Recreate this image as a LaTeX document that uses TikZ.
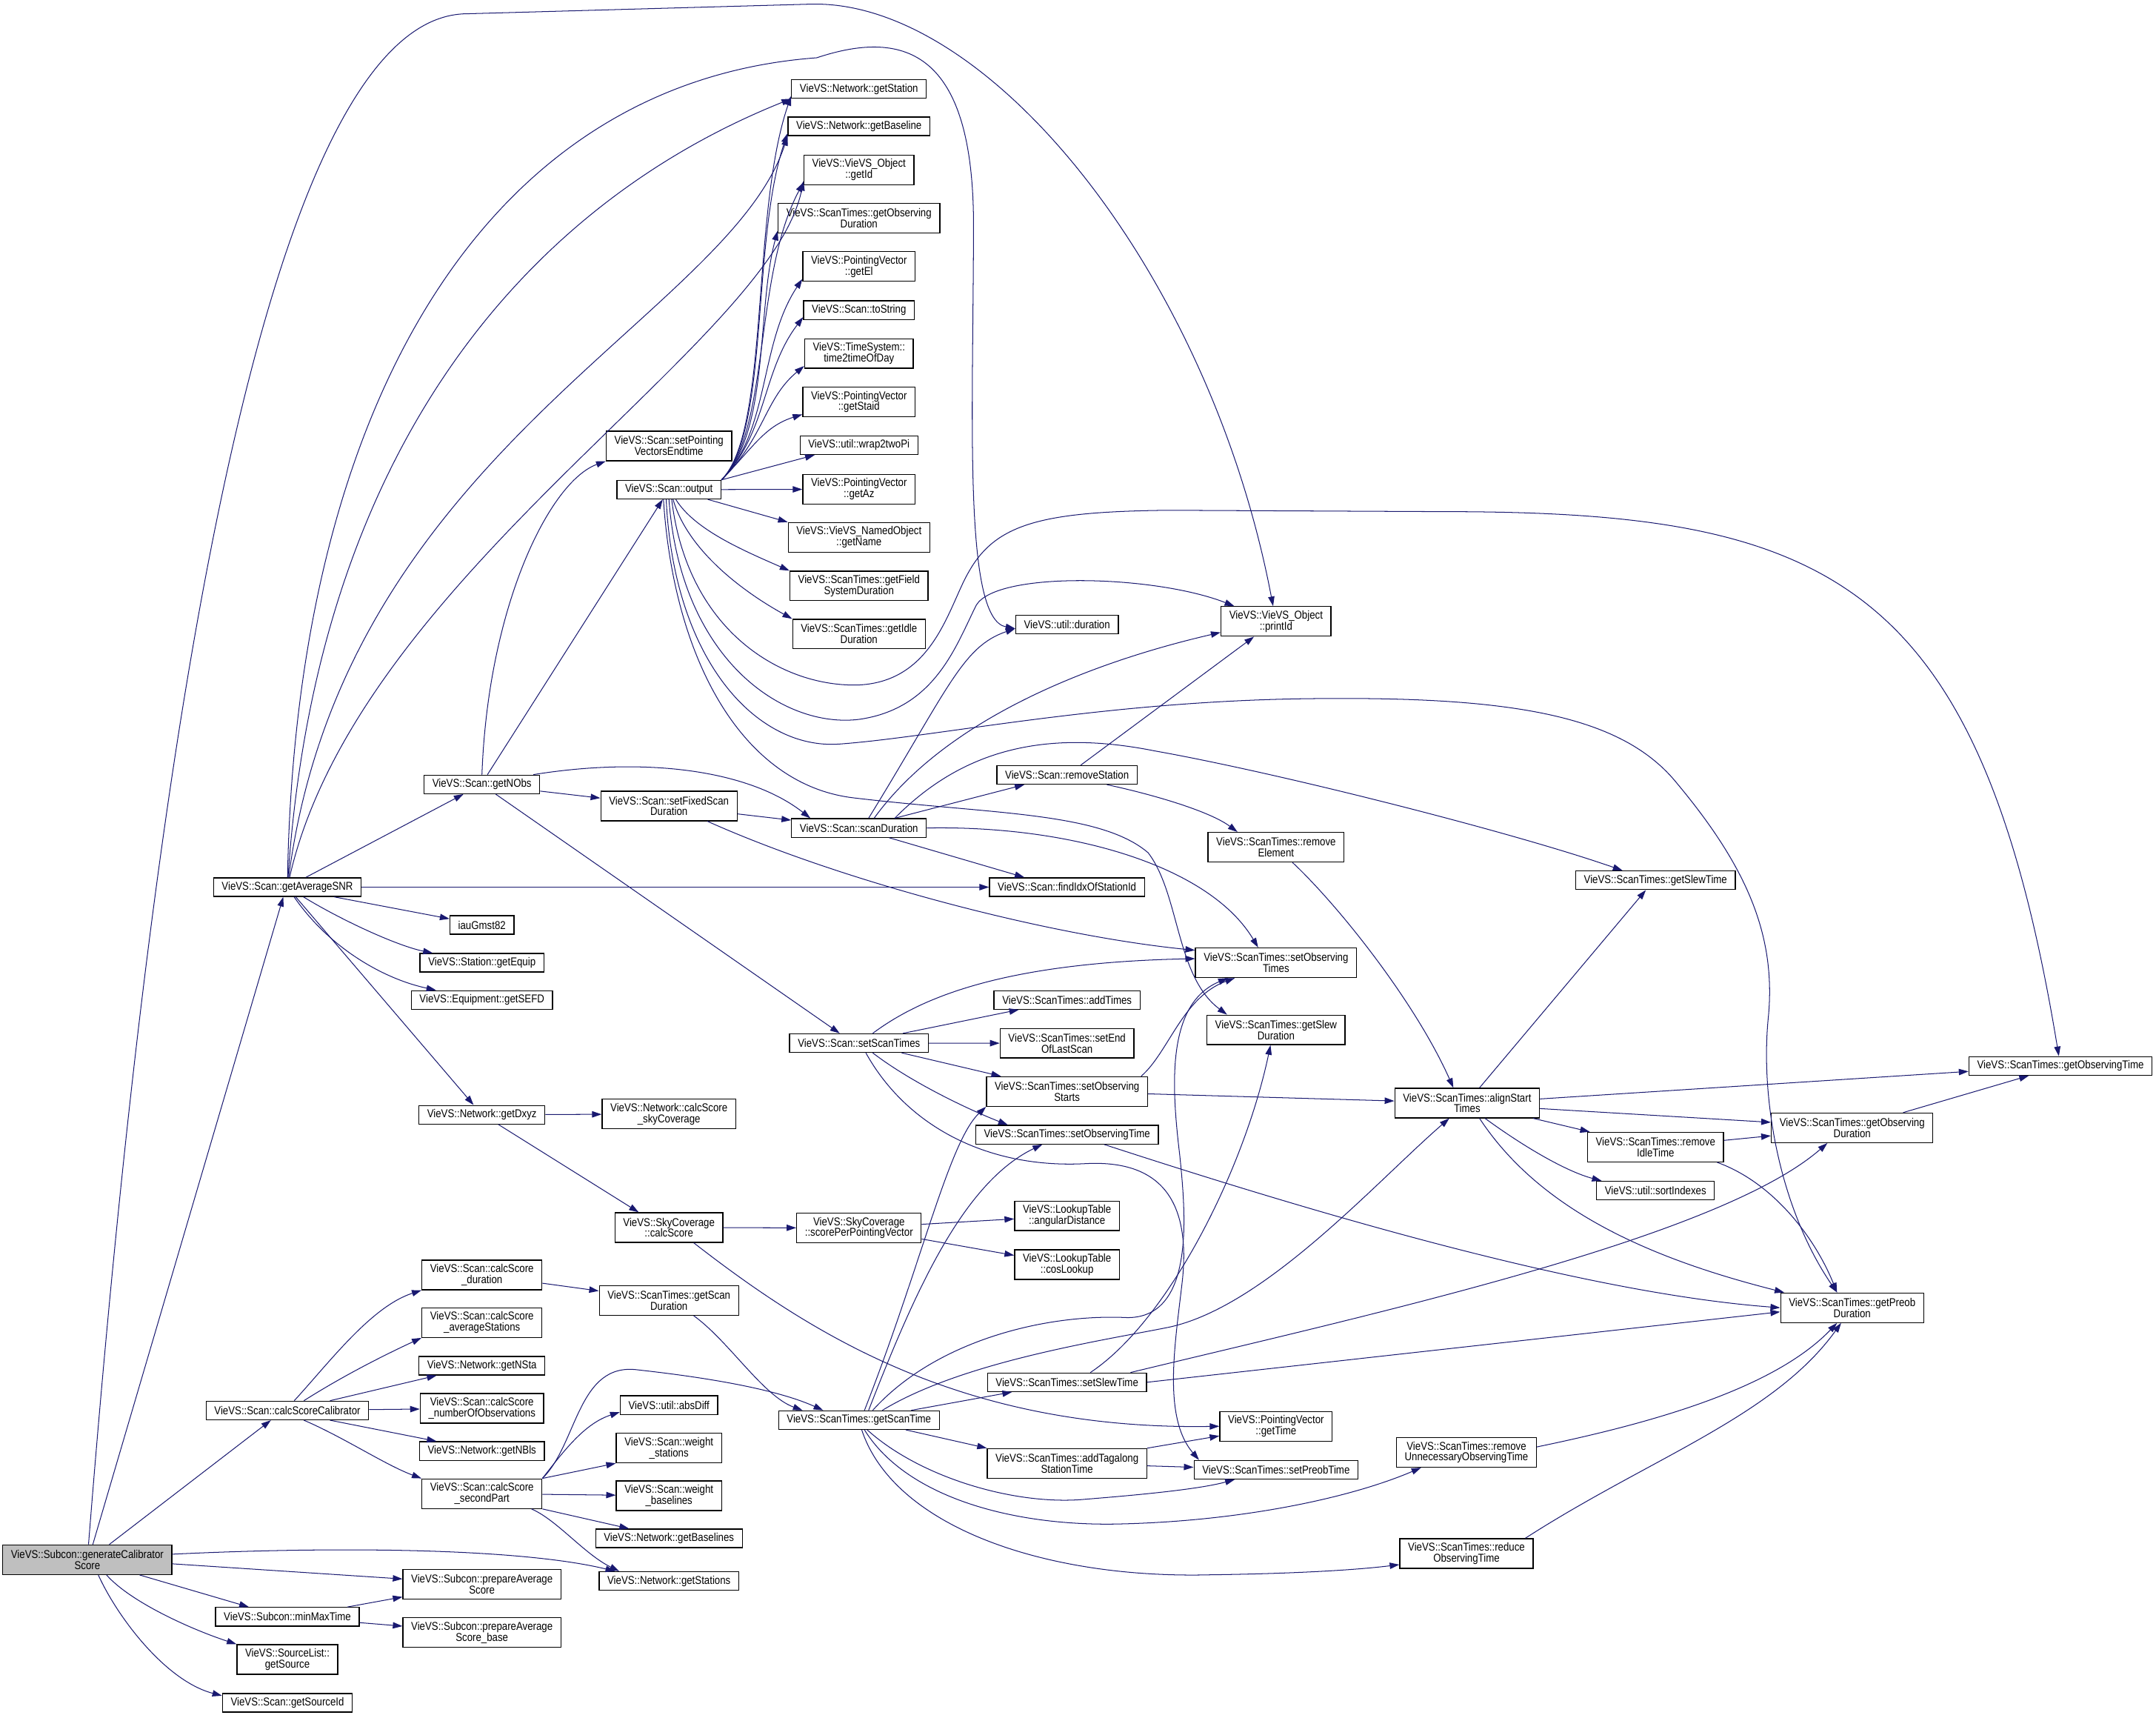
\documentclass[tikz,border=0pt]{standalone}
\usepackage{fontspec}
\setmainfont{Liberation Sans}[FakeStretch=0.86]
\usetikzlibrary{arrows.meta}
\definecolor{mynavy}{RGB}{25,25,112}
\definecolor{mygray}{RGB}{191,191,191}

\begin{document}
\begin{tikzpicture}[x=1pt,y=-1pt,
    every node/.style={font=\fontsize{8.3}{8}\selectfont},
    fn/.style={draw=black,line width=0.7pt,fill=white,inner xsep=6pt,inner ysep=2pt,minimum height=13.5pt,align=center},
    fnn/.style={fn,minimum height=21.5pt},
    call/.style={draw=mynavy,line width=0.55pt,-{Triangle[length=7pt,width=4.6pt]}}]
    \useasboundingbox (0,0) rectangle (1568,1248.6);

    % the caller
    \node[fnn,fill=mygray] (gen) at (63.5,1134) {VieVS::Subcon::generateCalibrator\\Score};

    % one-line functions: {name/x/y/text}
    \foreach \nm/\x/\y/\txt in {
        getAverageSNR/209/645/{VieVS::Scan::getAverageSNR},
        calcScoreCalibrator/209/1025.5/{VieVS::Scan::calcScoreCalibrator},
        minMaxTime/209/1175.5/{VieVS::Subcon::minMaxTime},
        getSourceId/209/1238/{VieVS::Scan::getSourceId},
        getNObs/350.5/570.3/{VieVS::Scan::getNObs},
        iauGmst82/350.5/672.5/{iauGmst82},
        getEquip/350.5/700/{VieVS::Station::getEquip},
        getSEFD/350.5/727/{VieVS::Equipment::getSEFD},
        getDxyz/350.5/810.5/{VieVS::Network::getDxyz},
        getNSta/350.5/993/{VieVS::Network::getNSta},
        getNBls/350.5/1055/{VieVS::Network::getNBls},
        output/486.5/356/{VieVS::Scan::output},
        absDiff/486.5/1021.6/{VieVS::util::absDiff},
        getBaselines/486.5/1118.5/{VieVS::Network::getBaselines},
        getStations/486.5/1149.5/{VieVS::Network::getStations},
        getStation/624.7/64.7/{VieVS::Network::getStation},
        getBaseline/624.7/91.8/{VieVS::Network::getBaseline},
        toString/624.7/225.5/{VieVS::Scan::toString},
        wrapTwoPi/624.7/323.7/{VieVS::util::wrap2twoPi},
        scanDuration/624.7/602/{VieVS::Scan::scanDuration},
        setScanTimes/624.7/758.4/{VieVS::Scan::setScanTimes},
        getScanTime/624.7/1032.5/{VieVS::ScanTimes::getScanTime},
        duration/776/454/{VieVS::util::duration},
        removeStation/776/563.4/{VieVS::Scan::removeStation},
        findIdx/776/645/{VieVS::Scan::findIdxOfStationId},
        addTimes/776/727/{VieVS::ScanTimes::addTimes},
        setObsTime/776/825/{VieVS::ScanTimes::setObservingTime},
        setSlewTime/776/1005/{VieVS::ScanTimes::setSlewTime},
        setPreobTime/928/1068.6/{VieVS::ScanTimes::setPreobTime},
        getSlewTime/1204/640/{VieVS::ScanTimes::getSlewTime},
        sortIndexes/1204/865.6/{VieVS::util::sortIndexes},
        getObsTime/1498.5/775/{VieVS::ScanTimes::getObservingTime}}
        \node[fn] (\nm) at (\x,\y) {\txt};

    % two-line functions
    \foreach \nm/\x/\y/\txt in {
        getSource/209/1206.5/{VieVS::SourceList::\\getSource},
        calcScoreDuration/350.5/927/{VieVS::Scan::calcScore\\\_duration},
        calcScoreAvgStations/350.5/961.6/{VieVS::Scan::calcScore\\\_averageStations},
        calcScoreNumObs/350.5/1024/{VieVS::Scan::calcScore\\\_numberOfObservations},
        calcScoreSecondPart/350.5/1086/{VieVS::Scan::calcScore\\\_secondPart},
        prepareAverageScore/350.5/1152/{VieVS::Subcon::prepareAverage\\Score},
        prepareAverageScoreBase/350.5/1187/{VieVS::Subcon::prepareAverage\\Score\_base},
        setPointingVectorsEndtime/486.5/324.2/{VieVS::Scan::setPointing\\VectorsEndtime},
        setFixedScanDuration/486.5/586/{VieVS::Scan::setFixedScan\\Duration},
        calcScoreSkyCoverage/486.5/810/{VieVS::Network::calcScore\\\_skyCoverage},
        skyCalcScore/486.5/892.5/{VieVS::SkyCoverage\\::calcScore},
        getScanDuration/486.5/945.5/{VieVS::ScanTimes::getScan\\Duration},
        weightStations/486.5/1052.8/{VieVS::Scan::weight\\\_stations},
        weightBaselines/486.5/1087.5/{VieVS::Scan::weight\\\_baselines},
        getId/624.7/123.5/{VieVS::VieVS\_Object\\::getId},
        getObsDuration/624.7/158.7/{VieVS::ScanTimes::getObserving\\Duration},
        getEl/624.7/193.8/{VieVS::PointingVector\\::getEl},
        timeOfDay/624.7/257/{VieVS::TimeSystem::\\time2timeOfDay},
        getStaid/624.7/292.2/{VieVS::PointingVector\\::getStaid},
        getAz/624.7/355.7/{VieVS::PointingVector\\::getAz},
        getName/624.7/390.7/{VieVS::VieVS\_NamedObject\\::getName},
        getFieldSysDuration/624.7/426/{VieVS::ScanTimes::getField\\SystemDuration},
        getIdleDuration/624.7/461/{VieVS::ScanTimes::getIdle\\Duration},
        scorePerPV/624.7/892.8/{VieVS::SkyCoverage\\::scorePerPointingVector},
        setEndOfLastScan/776/758.5/{VieVS::ScanTimes::setEnd\\OfLastScan},
        setObsStarts/776/793.6/{VieVS::ScanTimes::setObserving\\Starts},
        angularDistance/776/884/{VieVS::LookupTable\\::angularDistance},
        cosLookup/776/919.5/{VieVS::LookupTable\\::cosLookup},
        addTagalong/776/1064/{VieVS::ScanTimes::addTagalong\\StationTime},
        printId/928/451.8/{VieVS::VieVS\_Object\\::printId},
        removeElement/928/616/{VieVS::ScanTimes::remove\\Element},
        setObsTimes/928/700/{VieVS::ScanTimes::setObserving\\Times},
        getSlewDuration/928/748.8/{VieVS::ScanTimes::getSlew\\Duration},
        getTime/928/1037/{VieVS::PointingVector\\::getTime},
        alignStartTimes/1067/802/{VieVS::ScanTimes::alignStart\\Times},
        removeUnnecessary/1066.5/1056/{VieVS::ScanTimes::remove\\UnnecessaryObservingTime},
        reduceObsTime/1066.5/1129.5/{VieVS::ScanTimes::reduce\\ObservingTime},
        removeIdleTime/1204/834/{VieVS::ScanTimes::remove\\IdleTime},
        getObsDuration2/1347/820/{VieVS::ScanTimes::getObserving\\Duration},
        getPreobDuration/1347/950.8/{VieVS::ScanTimes::getPreob\\Duration}}
        \node[fnn] (\nm) at (\x,\y) {\txt};

    % calls of the caller
    \draw[call] (gen) .. controls (120,420) and (210,10) .. (340,10) -- (590,3) .. controls (720,0) and (880,200) .. (printId);
    \draw[call] ([xshift=4pt]gen.north) -- ([xshift=-3pt]getAverageSNR.south);
    \draw[call] ([xshift=16pt]gen.north) -- ([xshift=-12pt]calcScoreCalibrator.south);
    \draw[call] ([yshift=4pt]gen.east) .. controls (250,1124) and (380,1126) .. ([xshift=12pt]getStations.north west);
    \draw[call] ([yshift=-3pt]gen.east) -- ([yshift=4pt]prepareAverageScore.west);
    \draw[call] ([xshift=38pt]gen.south) -- ([xshift=-28pt]minMaxTime.north);
    \draw[call] ([xshift=14pt]gen.south) .. controls (95,1165) and (140,1185) .. (getSource.north west);
    \draw[call] ([xshift=8pt]gen.south) .. controls (85,1175) and (120,1222) .. ([yshift=-2pt]getSourceId.north west);

    % getAverageSNR
    \draw[call] (getAverageSNR) .. controls (215,300) and (350,60) .. (594,42) .. controls (660,20) and (707,40) .. (708,160) .. controls (708,300) and (700,450) .. ([yshift=-3pt]duration.west);
    \draw[call] (getAverageSNR) .. controls (230,330) and (380,150) .. (getStation.south west);
    \draw[call] (getAverageSNR) .. controls (250,330) and (530,230) .. (getBaseline.south west);
    \draw[call] (getAverageSNR) .. controls (260,420) and (560,250) .. ([yshift=3pt]getId.south west);
    \draw[call] (getAverageSNR) -- (getNObs);
    \draw[call] (getAverageSNR) -- (findIdx);
    \draw[call] ([xshift=-20pt]getAverageSNR.south east) -- (iauGmst82);
    \draw[call] (getAverageSNR) .. controls (250,670) and (290,688) .. (getEquip);
    \draw[call] (getAverageSNR) .. controls (240,690) and (280,712) .. (getSEFD);
    \draw[call] (getAverageSNR) -- (getDxyz);

    % getNObs
    \draw[call] (getNObs.north) .. controls (355,440) and (400,350) .. (setPointingVectorsEndtime.south west);
    \draw[call] ([xshift=4pt]getNObs.north) -- (output);
    \draw[call] (getNObs) -- (setFixedScanDuration);
    \draw[call] ([xshift=-5pt]getNObs.north east) .. controls (470,550) and (545,560) .. ([xshift=14pt]scanDuration.north west);
    \draw[call] ([xshift=10pt]getNObs.south) -- ([xshift=-14pt]setScanTimes.north);

    % output: the bundle going up {target/first control/second control}
    \foreach \t/\ax/\ay/\bx/\by in {getStation/560/313.5/546/155, getBaseline/560/313.5/546/175,
        getId/560/313.5/548/200, getObsDuration/560/313.5/550/225, getEl/560/313.5/552/250,
        toString/558/315/554/270, timeOfDay/556/318/556/290, getStaid/548/325/556/310}
        \draw[call] (output.north east) .. controls (\ax,\ay) and (\bx,\by) .. ([yshift=2pt]\t.south west);
    \draw[call] (output.north east) -- ([xshift=11pt]wrapTwoPi.south west);
    \draw[call] (output) -- (getAz);
    \draw[call] ([xshift=-10pt]output.south east) -- (getName.north west);
    \draw[call] ([xshift=5pt]output.south) .. controls (505,385) and (540,400) .. (getFieldSysDuration.north west);
    \draw[call] ([xshift=3pt]output.south) .. controls (500,400) and (540,430) .. (getIdleDuration.north west);
    % output: the long ones
    \draw[call] ([xshift=2pt]output.south) .. controls (500,460) and (570,500) .. (625,498) .. controls (680,495) and (690,440) .. (705,415) .. controls (725,380) and (760,372) .. (850,371) -- (1050,372) .. controls (1330,372) and (1440,420) .. (getObsTime);
    \draw[call] (output.south) .. controls (495,480) and (570,530) .. (625,523) .. controls (680,515) and (695,470) .. (710,440) .. controls (725,415) and (840,418) .. ([xshift=10pt]printId.north west);
    \draw[call] ([xshift=-2pt]output.south) .. controls (490,480) and (550,545) .. (610,541) .. controls (680,536) and (800,510) .. (950,508) .. controls (1100,506) and (1180,520) .. (1220,570) .. controls (1270,630) and (1292,680) .. (1286,740) .. controls (1280,800) and (1295,880) .. ([xshift=-11pt]getPreobDuration.north);
    \draw[call] ([xshift=-4pt]output.south) .. controls (490,480) and (540,570) .. (620,580) .. controls (720,592) and (800,590) .. (835,620) .. controls (858,650) and (855,710) .. ([xshift=15pt]getSlewDuration.north west);

    % setFixedScanDuration
    \draw[call] (setFixedScanDuration) -- (scanDuration);
    \draw[call] ([xshift=-22pt]setFixedScanDuration.south east) .. controls (610,640) and (760,680) .. ([yshift=-2pt]setObsTimes.north west);

    % scanDuration
    \draw[call] ([xshift=7pt]scanDuration.north) .. controls (690,500) and (700,470) .. ([yshift=-3pt]duration.west);
    \draw[call] ([xshift=11pt]scanDuration.north) .. controls (690,520) and (800,480) .. ([yshift=-8pt]printId.west);
    \draw[call] ([xshift=26pt]scanDuration.north) -- ([xshift=-31pt]removeStation.south);
    \draw[call] ([xshift=26pt]scanDuration.north) .. controls (700,545) and (760,530) .. (840,546) .. controls (930,562) and (1100,605) .. ([xshift=-24pt]getSlewTime.north);
    \draw[call] ([xshift=22pt]scanDuration.south) -- ([xshift=-31pt]findIdx.north);
    \draw[call] (scanDuration.east) .. controls (780,600) and (880,630) .. ([xshift=-13pt]setObsTimes.north);

    % removeStation, removeElement
    \draw[call] ([xshift=10pt]removeStation.north) -- ([xshift=-16pt]printId.south);
    \draw[call] ([xshift=29pt]removeStation.south) .. controls (840,578) and (880,590) .. ([xshift=-28pt]removeElement.north);
    \draw[call] ([xshift=12pt]removeElement.south) .. controls (975,660) and (1030,730) .. ([xshift=-10pt]alignStartTimes.north);

    % setScanTimes
    \draw[call] ([xshift=10pt]setScanTimes.north) .. controls (670,725) and (730,700) .. ([yshift=3pt]setObsTimes.west);
    \draw[call] ([xshift=32pt]setScanTimes.north) -- ([xshift=-35pt]addTimes.south);
    \draw[call] (setScanTimes) -- (setEndOfLastScan);
    \draw[call] ([xshift=31pt]setScanTimes.south) -- ([xshift=-48pt]setObsStarts.north);
    \draw[call] ([xshift=10pt]setScanTimes.south) .. controls (660,785) and (700,805) .. ([xshift=-43pt]setObsTime.north);
    \draw[call] ([xshift=5pt]setScanTimes.south) .. controls (660,820) and (720,850) .. (790,846) .. controls (850,843) and (865,880) .. (860,930) .. controls (855,975) and (845,1030) .. ([xshift=4pt]setPreobTime.north west);

    % setObservingStarts, setObservingTime
    \draw[call] (setObsStarts) -- (alignStartTimes);
    \draw[call] ([xshift=-5pt]setObsStarts.north east) .. controls (850,765) and (860,725) .. ([xshift=-30pt]setObsTimes.south);
    \draw[call] ([xshift=27pt]setObsTime.south) .. controls (950,880) and (1150,940) .. (getPreobDuration.west);

    % getScanTime
    \draw[call] ([xshift=4pt]getScanTime.north) .. controls (670,920) and (690,830) .. (setObsStarts.south west);
    \draw[call] ([xshift=7pt]getScanTime.north) .. controls (665,940) and (700,860) .. ([xshift=-18pt]setObsTime.south);
    \draw[call] ([xshift=10pt]getScanTime.north) .. controls (680,975) and (760,955) .. (820,958) .. controls (870,958) and (862,880) .. (858,840) .. controls (852,790) and (848,730) .. ([xshift=-35pt]setObsTimes.south);
    \draw[call] ([xshift=17pt]getScanTime.north) .. controls (700,990) and (800,975) .. (850,965) .. controls (920,950) and (1000,860) .. ([xshift=-13pt]alignStartTimes.south);
    \draw[call] ([xshift=38pt]getScanTime.north) -- ([xshift=-40pt]setSlewTime.south);
    \draw[call] ([xshift=34pt]getScanTime.south) -- (addTagalong.north west);
    \draw[call] ([xshift=6pt]getScanTime.south) .. controls (670,1075) and (740,1095) .. (790,1090) .. controls (840,1086) and (875,1082) .. ([xshift=-30pt]setPreobTime.south);
    \draw[call] ([xshift=4pt]getScanTime.south) .. controls (660,1090) and (740,1110) .. (815,1108) .. controls (900,1106) and (980,1090) .. ([xshift=-33pt]removeUnnecessary.south);
    \draw[call] ([xshift=2pt]getScanTime.south) .. controls (650,1110) and (760,1148) .. (880,1145) .. controls (950,1144) and (990,1141) .. ([yshift=3pt]reduceObsTime.south west);
    \draw[call] ([xshift=18pt]getScanDuration.south) .. controls (530,975) and (555,1015) .. ([xshift=-41pt]getScanTime.north);
    \draw[call] (calcScoreSecondPart.north east) .. controls (420,1050) and (420,990) .. (464,996) .. controls (500,1000) and (560,1008) .. ([xshift=-26pt]getScanTime.north);

    % calcScoreCalibrator
    \draw[call] ([xshift=5pt]calcScoreCalibrator.north) .. controls (240,990) and (270,950) .. (calcScoreDuration.south west);
    \draw[call] ([xshift=12pt]calcScoreCalibrator.north) .. controls (250,1000) and (280,985) .. (calcScoreAvgStations.south west);
    \draw[call] ([xshift=31pt]calcScoreCalibrator.north) -- ([xshift=-33pt]getNSta.south);
    \draw[call] (calcScoreCalibrator) -- (calcScoreNumObs);
    \draw[call] ([xshift=31pt]calcScoreCalibrator.south) -- ([xshift=-33pt]getNBls.north);
    \draw[call] ([xshift=12pt]calcScoreCalibrator.south) .. controls (250,1045) and (280,1065) .. (calcScoreSecondPart.north west);
    \draw[call] (calcScoreDuration) -- (getScanDuration);

    % calcScore_secondPart
    \draw[call] (calcScoreSecondPart.north east) .. controls (410,1055) and (425,1035) .. ([yshift=2pt]absDiff.south west);
    \draw[call] (calcScoreSecondPart.north east) -- (weightStations.south west);
    \draw[call] (calcScoreSecondPart) -- (weightBaselines);
    \draw[call] (calcScoreSecondPart.south east) -- ([xshift=-29pt]getBaselines.north);
    \draw[call] ([xshift=-8pt]calcScoreSecondPart.south east) .. controls (405,1105) and (425,1130) .. ([xshift=15pt]getStations.north west);

    % minMaxTime
    \draw[call] ([xshift=-9pt]minMaxTime.north east) -- ([yshift=2pt]prepareAverageScore.south west);
    \draw[call] (minMaxTime) -- (prepareAverageScoreBase);

    % getDxyz, sky coverage
    \draw[call] (getDxyz) -- (calcScoreSkyCoverage);
    \draw[call] ([xshift=12pt]getDxyz.south) -- ([xshift=-22pt]skyCalcScore.north);
    \draw[call] (skyCalcScore) -- (scorePerPV);
    \draw[call] ([xshift=18pt]skyCalcScore.south) .. controls (590,970) and (700,1040) .. (getTime.west);
    \draw[call] (scorePerPV) -- (angularDistance);
    \draw[call] (scorePerPV) -- (cosLookup);

    % setSlewTime, addTagalongStationTime
    \draw[call] ([xshift=17pt]setSlewTime.north) .. controls (850,960) and (905,850) .. ([xshift=-4pt]getSlewDuration.south);
    \draw[call] ([xshift=-12pt]setSlewTime.north east) .. controls (1000,955) and (1250,900) .. ([xshift=-18pt]getObsDuration2.south);
    \draw[call] (setSlewTime.east) -- ([yshift=-3pt]getPreobDuration.west);
    \draw[call] (addTagalong.north east) -- ([yshift=-7pt]getTime.west);
    \draw[call] (addTagalong) -- (setPreobTime);

    % remove / reduce observing time
    \draw[call] ([yshift=4pt]removeUnnecessary.east) .. controls (1200,1035) and (1290,1010) .. ([xshift=-11pt]getPreobDuration.south);
    \draw[call] ([xshift=-6pt]reduceObsTime.north east) .. controls (1200,1060) and (1290,1030) .. ([xshift=-8pt]getPreobDuration.south);

    % alignStartTimes
    \draw[call] ([xshift=9pt]alignStartTimes.north) -- ([xshift=-7pt]getSlewTime.south);
    \draw[call] ([yshift=3pt]alignStartTimes.east) -- ([yshift=-4pt]getObsTime.west);
    \draw[call] ([yshift=-4pt]alignStartTimes.east) -- ([yshift=4pt]getObsDuration2.west);
    \draw[call] ([xshift=-5pt]alignStartTimes.south east) -- ([xshift=2pt]removeIdleTime.north west);
    \draw[call] ([xshift=13pt]alignStartTimes.south) .. controls (1110,835) and (1140,852) .. ([xshift=4pt]sortIndexes.north west);
    \draw[call] ([xshift=9pt]alignStartTimes.south) .. controls (1120,880) and (1200,915) .. ([xshift=3pt]getPreobDuration.north west);
    \draw[call] (removeIdleTime) -- (getObsDuration2);
    \draw[call] ([xshift=-5pt]removeIdleTime.south east) .. controls (1290,860) and (1320,900) .. ([xshift=-11pt]getPreobDuration.north);
    \draw[call] ([xshift=-22pt]getObsDuration2.north east) -- ([xshift=-23pt]getObsTime.south);
\end{tikzpicture}
\end{document}
